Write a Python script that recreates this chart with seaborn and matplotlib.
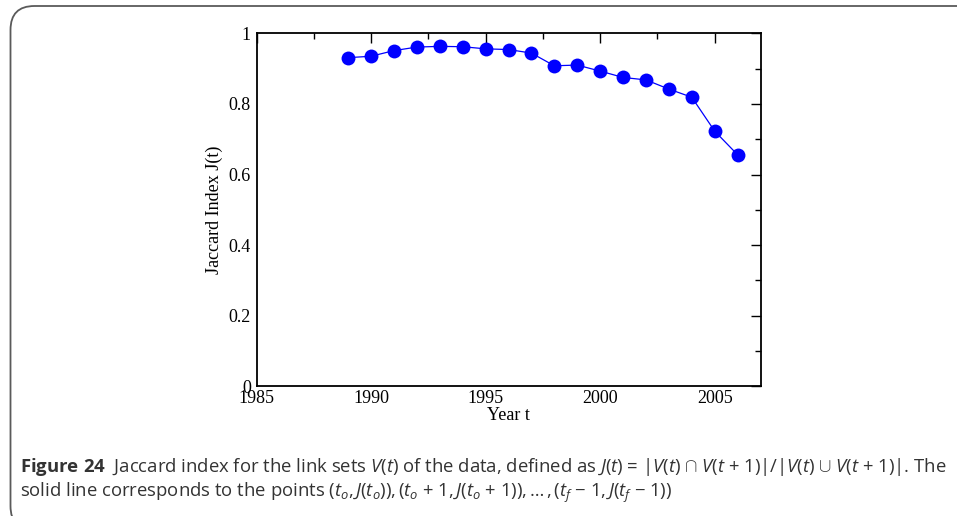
import numpy as np
import pandas as pd
import matplotlib
matplotlib.use("Agg")
import matplotlib.pyplot as plt
from matplotlib.patches import FancyBboxPatch
from matplotlib.ticker import MultipleLocator
import seaborn as sns

years = [1989, 1990, 1991, 1992, 1993, 1994, 1995, 1996, 1997, 1998,
         1999, 2000, 2001, 2002, 2003, 2004, 2005, 2006]
jaccard = [0.931, 0.935, 0.951, 0.961, 0.963, 0.962, 0.956, 0.954, 0.944,
           0.908, 0.910, 0.893, 0.875, 0.868, 0.842, 0.819, 0.723, 0.656]
x_ticks = [1985, 1990, 1995, 2000, 2005]
y_ticks = [0, 0.2, 0.4, 0.6, 0.8, 1]
y_tick_labels = ["0", "0.2", "0.4", "0.6", "0.8", "1"]
x_label = "Year t"
y_label = "Jaccard Index J(t)"
caption_1 = (r"$\mathbf{Figure\ 24}$  Jaccard index for the link sets $V(t)$ of the data, "
             r"defined as $J(t)$ = |$V(t)$ $\cap$ $V(t$ + 1)|/|$V(t)$ $\cup$ $V(t$ + 1)|. The")
caption_2 = (r"solid line corresponds to the points ($t_o$,$\,J(t_o)$),$\,$($t_o$ + 1,$\,J(t_o$ + 1)),"
             r"$\,\ldots\,$,$\,$($t_f$ $-$ 1,$\,J(t_f$ $-$ 1))")

df = pd.DataFrame({"year": years, "J": jaccard})

sns.set_style("white")
plt.rcParams["font.family"] = ["Liberation Serif", "DejaVu Serif"]
plt.rcParams["mathtext.fontset"] = "custom"
plt.rcParams["mathtext.rm"] = "Open Sans"
plt.rcParams["mathtext.it"] = "Open Sans:italic"
plt.rcParams["mathtext.bf"] = "Open Sans:bold"

W, H = 957, 516
fig = plt.figure(figsize=(W / 100, H / 100), dpi=100)

# axes in pixel coordinates
left, right, top, bottom = 256.5, 760.5, 33.3, 386.4
ax = fig.add_axes([left / W, 1 - bottom / H, (right - left) / W, (bottom - top) / H])

sns.lineplot(data=df, x="year", y="J", ax=ax, color="#0000ff", lw=0.9,
             marker="o", markersize=10, markeredgecolor="#0000ff",
             markeredgewidth=0)

ax.set_xlim(1985, 2007)
ax.set_ylim(0, 1)
ax.set_xticks(x_ticks)
ax.set_xticklabels([str(v) for v in x_ticks])
ax.set_yticks(y_ticks)
ax.set_yticklabels(y_tick_labels)
ax.xaxis.set_minor_locator(MultipleLocator(2.5))
ax.yaxis.set_minor_locator(MultipleLocator(0.1))
ax.tick_params(which="both", direction="in", top=True, right=True,
               color="black", labelsize=13, labelcolor="black")
ax.tick_params(which="major", length=7.5, width=1.0)
ax.tick_params(which="minor", length=4, width=1.0)
ax.tick_params(axis="x", pad=2.5)
ax.tick_params(axis="y", pad=4)
for s in ax.spines.values():
    s.set_visible(True)
    s.set_color("black")
    s.set_linewidth(1.3)
ax.set_xlabel(x_label, fontsize=13, color="black", labelpad=0)
ax.set_ylabel(y_label, fontsize=13, color="black", labelpad=4)

# rounded frame (bottom and right edges fall outside the picture)
frame = FancyBboxPatch((10.5 / W, 1 - 530 / H), 1.1, (530 - 6) / H,
                       boxstyle="round,pad=0,rounding_size=0.025",
                       transform=fig.transFigure, fill=False,
                       edgecolor="#5a5a5a", linewidth=1.3, clip_on=False,
                       mutation_aspect=W / H)
fig.patches.append(frame)

fig.text(20 / W, 1 - 472 / H, caption_1, fontsize=13.3, family="Open Sans",
         color="#333333", ha="left", va="baseline")
fig.text(20 / W, 1 - 497 / H, caption_2, fontsize=13.3, family="Open Sans",
         color="#333333", ha="left", va="baseline")

fig.savefig("out.png", dpi=100)
